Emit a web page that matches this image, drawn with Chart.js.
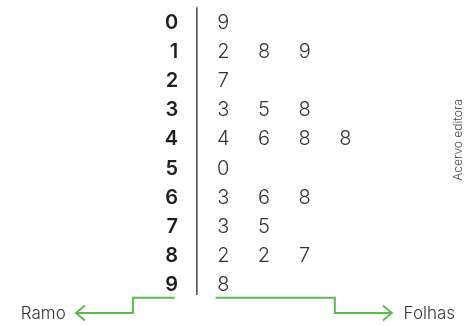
<!DOCTYPE html>
<html>
<head>
<meta charset="utf-8">
<script src="https://cdn.jsdelivr.net/npm/chart.js@4/dist/chart.umd.min.js"></script>
<style>
  html, body { margin: 0; padding: 0; background: #fff; }
  #wrap { width: 475px; height: 326px; position: relative; }
</style>
</head>
<body>
<div id="wrap"><canvas id="c" width="475" height="326"></canvas></div>
<script>
// stem-and-leaf data
const stems = [0, 1, 2, 3, 4, 5, 6, 7, 8, 9];
const leaves = [[9], [2, 8, 9], [7], [3, 5, 8], [4, 6, 8, 8], [0], [3, 6, 8], [3, 5], [2, 2, 7], [8]];
const partLabels = ['Ramo', 'Folhas'];
const credit = 'Acervo editora';

const green = '#5dba50';

// x unit = one leaf column, y unit = one row
const stemX = -0.11;
const divX = 0.35;
const bracketY = [9.49, 10.01];

const stemPoints = stems.map((s, i) => ({ x: stemX, y: i, label: String(s) }));
const leafPoints = [];
leaves.forEach((row, i) => row.forEach((v, k) => leafPoints.push({ x: k + 1, y: i, label: String(v) })));

const lineDs = (data, color, width) => ({
    type: 'line', data, borderColor: color, borderWidth: width,
    pointRadius: 0, fill: false, tension: 0, showLine: true
});

const textPlugin = {
    id: 'texts',
    afterDatasetsDraw(chart) {
        const ctx = chart.ctx;
        ctx.save();
        chart.data.datasets.forEach((ds, di) => {
            if (!ds.textFont) return;
            const meta = chart.getDatasetMeta(di);
            ctx.font = ds.textFont;
            ctx.fillStyle = ds.textColor;
            ctx.textBaseline = 'alphabetic';
            meta.data.forEach((el, i) => {
                ctx.textAlign = ds.data[i].align || ds.textAlign || 'center';
                ctx.fillText(ds.data[i].label, el.x, el.y + ds.textShift);
            });
        });
        // credit, vertical on the right
        ctx.font = '300 12px Inter, sans-serif';
        ctx.fillStyle = '#444';
        ctx.textAlign = 'center';
        ctx.textBaseline = 'middle';
        ctx.translate(chart.width - 17, 140);
        ctx.rotate(-Math.PI / 2);
        ctx.fillText(credit, 0, 0);
        ctx.restore();
    }
};

new Chart(document.getElementById('c'), {
    type: 'scatter',
    data: {
        datasets: [
            { data: stemPoints, pointRadius: 0, textFont: '600 20px Inter, sans-serif', textColor: '#1e1e1e', textAlign: 'right', textShift: 7.3 },
            { data: leafPoints, pointRadius: 0, textFont: '300 20px Inter, sans-serif', textColor: '#333', textAlign: 'center', textShift: 7.3 },
            lineDs([{ x: divX, y: -0.5 }, { x: divX, y: 9.39 }], '#444', 1.5),
            lineDs([{ x: -0.19, y: bracketY[0] }, { x: -1.22, y: bracketY[0] }, { x: -1.22, y: bracketY[1] }, { x: -2.62, y: bracketY[1] }], green, 2),
            lineDs([{ x: -2.40, y: bracketY[1] - 0.26 }, { x: -2.62, y: bracketY[1] }, { x: -2.40, y: bracketY[1] + 0.26 }], green, 2),
            lineDs([{ x: 0.81, y: bracketY[0] }, { x: 3.74, y: bracketY[0] }, { x: 3.74, y: bracketY[1] }, { x: 5.14, y: bracketY[1] }], green, 2),
            lineDs([{ x: 4.92, y: bracketY[1] - 0.26 }, { x: 5.14, y: bracketY[1] }, { x: 4.92, y: bracketY[1] + 0.26 }], green, 2),
            { data: [{ x: -2.87, y: bracketY[1], label: partLabels[0], align: 'right' },
                     { x: 5.43, y: bracketY[1], label: partLabels[1], align: 'left' }],
              pointRadius: 0, textFont: '300 17px Inter, sans-serif', textColor: '#333', textShift: 6.2 }
        ]
    },
    options: {
        responsive: false,
        animation: false,
        events: [],
        layout: { padding: 0 },
        plugins: { legend: { display: false }, tooltip: { enabled: false } },
        scales: {
            x: { type: 'linear', display: false, min: -4.486, max: 7.184 },
            y: { type: 'linear', display: false, reverse: true, min: -0.746, max: 10.457 }
        }
    },
    plugins: [textPlugin]
});
</script>
</body>
</html>
